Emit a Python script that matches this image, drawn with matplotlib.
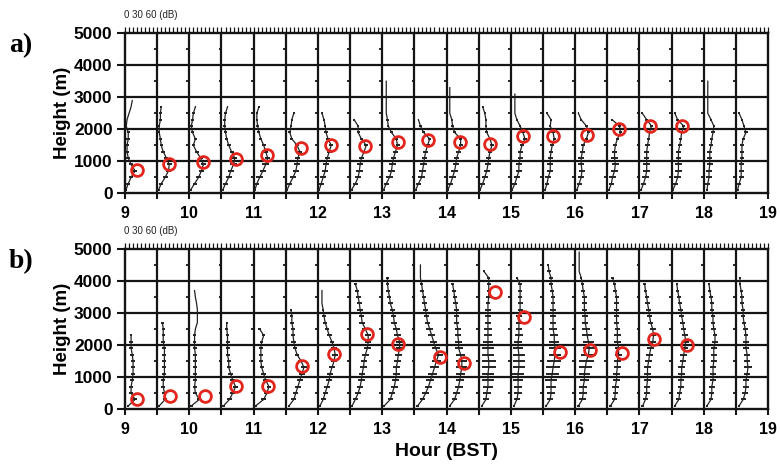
import numpy as np
import matplotlib.pyplot as plt
from matplotlib.ticker import MultipleLocator, FuncFormatter

SAVEFIG = 'out.png'

# start hour of each 30-min averaged sodar profile
COLUMNS = [9.0, 9.5, 10.0, 10.5, 11.0, 11.5, 12.0, 12.5, 13.0, 13.5,
           14.0, 14.5, 15.0, 15.5, 16.0, 16.5, 17.0, 17.5, 18.0, 18.5]
# range gates (m)
GATES = [100, 300, 500, 700, 900, 1100, 1300, 1500, 1700, 1900, 2100, 2300, 2500,
         2700, 2900, 3100, 3300, 3500, 3700, 3900, 4100, 4300, 4500, 4700, 4900]
DB_PER_HOUR = 160  # one half-hour column spans 80 dB

# backscatter profiles (dB), day a)
PROFILES_A = [
    [2, 8, 15, 25, 15, 8, 5, 5, 8, 8, 3, 5, 10, 15, 18],
    [3, 10, 20, 28, 30, 23, 15, 10, 8, 5, 5, 8, 8, 10],
    [3, 13, 23, 30, 35, 28, 18, 10, 15, 8, 5, 8, 10, 15],
    [3, 10, 18, 23, 30, 33, 25, 18, 13, 10, 8, 8, 10, 15],
    [3, 8, 15, 23, 30, 35, 30, 25, 18, 13, 10, 8, 8, 13],
    [3, 10, 18, 25, 28, 30, 35, 28, 15, 10, 13, 15, 20],
    [3, 8, 13, 18, 20, 23, 28, 33, 25, 20, 18, 15, 10],
    [3, 13, 20, 23, 25, 28, 35, 40, 28, 20, 20, 10],
    [3, 10, 18, 23, 25, 28, 33, 38, 35, 23, 15, 13, 10, 10, 10, 10, 10, 10],
    [3, 10, 18, 20, 23, 25, 28, 33, 38, 23, 15, 10],
    [3, 10, 15, 20, 23, 25, 30, 35, 35, 20, 15, 13, 8, 8, 8, 8, 8],
    [3, 10, 15, 20, 23, 25, 28, 33, 28, 20, 18, 18, 15, 10],
    [3, 10, 15, 20, 20, 23, 23, 28, 35, 30, 23, 15, 10, 10, 10, 10],
    [5, 10, 13, 18, 18, 18, 20, 23, 28, 25, 18, 20, 10],
    [4, 10, 15, 17, 15, 15, 18, 20, 28, 33, 28, 15, 8],
    [4, 10, 13, 18, 20, 18, 18, 20, 25, 33, 30, 12],
    [4, 10, 15, 18, 18, 18, 18, 20, 23, 25, 30, 18, 7],
    [3, 10, 15, 17, 17, 17, 17, 20, 23, 25, 30, 15, 8],
    [8, 10, 13, 13, 15, 15, 15, 18, 20, 23, 25, 18, 10, 10, 10, 10, 10, 10],
    [4, 8, 13, 13, 13, 15, 15, 15, 18, 25, 20, 15, 8],
]
ERRORS_A = [
    [3, 5, 6, 6, 5, 5, 5, 5, 5, 4, 0, 0, 0, 0, 0],
    [3, 5, 6, 6, 6, 5, 5, 4, 4, 3, 3, 3, 3, 2],
    [3, 5, 6, 6, 6, 5, 5, 4, 4, 3, 3, 3, 3, 2],
    [3, 6, 8, 8, 8, 6, 5, 5, 4, 4, 3, 3, 3, 2],
    [3, 6, 8, 8, 8, 6, 5, 5, 4, 4, 3, 3, 3, 2],
    [3, 6, 8, 8, 8, 6, 6, 5, 4, 4, 3, 3, 2],
    [3, 6, 8, 8, 8, 6, 6, 5, 4, 4, 3, 3, 2],
    [3, 6, 8, 8, 8, 6, 6, 5, 4, 4, 3, 2],
    [3, 6, 8, 8, 8, 6, 6, 5, 4, 4, 3, 3, 0, 0, 0, 0, 0, 0],
    [3, 6, 8, 8, 8, 6, 6, 5, 4, 4, 3, 2],
    [3, 6, 8, 8, 8, 6, 6, 5, 4, 4, 3, 3, 0, 0, 0, 0, 0],
    [3, 6, 8, 8, 8, 6, 6, 5, 4, 4, 3, 3, 3, 2],
    [3, 6, 8, 8, 8, 6, 6, 5, 4, 4, 3, 3, 0, 0, 0, 0],
    [3, 6, 8, 8, 8, 6, 6, 5, 4, 4, 3, 3, 2],
    [3, 6, 8, 8, 8, 8, 6, 5, 4, 4, 3, 3, 2],
    [3, 6, 8, 8, 8, 8, 6, 5, 4, 4, 3, 2],
    [3, 6, 8, 8, 8, 6, 6, 5, 4, 4, 3, 3, 2],
    [3, 6, 8, 8, 8, 6, 6, 5, 4, 4, 3, 3, 2],
    [3, 6, 8, 8, 8, 6, 6, 5, 4, 4, 3, 3, 0, 0, 0, 0, 0, 0],
    [3, 5, 6, 6, 6, 5, 5, 5, 4, 4, 3, 3, 2],
]
BLH_HOUR_A = [9.19, 9.69, 10.21, 10.72, 11.21, 11.73, 12.21, 12.73, 13.24,
              13.71, 14.21, 14.68, 15.19, 15.66, 16.18, 16.68, 17.16, 17.66]
BLH_A = [730, 900, 990, 1060, 1200, 1400, 1500, 1480, 1610,
         1660, 1610, 1540, 1790, 1800, 1810, 2010, 2100, 2100]

# backscatter profiles (dB), day b)
PROFILES_B = [
    [8, 25, 15, 15, 18, 20, 20, 20, 18, 15, 15, 15],
    [5, 20, 18, 15, 15, 18, 18, 18, 18, 18, 15, 15, 15, 13],
    [5, 25, 15, 13, 15, 15, 15, 15, 15, 13, 13, 13, 15, 20, 20, 20, 18, 15, 13],
    [5, 20, 28, 35, 28, 23, 18, 18, 15, 15, 15, 15, 13, 13],
    [5, 25, 33, 38, 30, 25, 20, 18, 18, 18, 20, 25, 15],
    [8, 20, 25, 30, 35, 40, 45, 38, 28, 23, 20, 18, 18, 15, 15, 13],
    [5, 13, 18, 23, 28, 30, 35, 40, 43, 40, 35, 28, 23, 18, 15, 13, 10, 10, 10],
    [5, 13, 20, 25, 28, 30, 33, 35, 38, 43, 45, 45, 38, 30, 28, 25, 23, 20, 18, 13],
    [5, 20, 25, 30, 33, 35, 35, 38, 40, 43, 43, 38, 35, 30, 28, 25, 20, 18, 15, 13, 13],
    [8, 20, 28, 35, 40, 45, 50, 55, 60, 53, 48, 43, 38, 33, 30, 28, 25, 23, 20, 18, 15, 15, 15],
    [8, 20, 25, 30, 33, 35, 38, 38, 35, 30, 30, 28, 28, 25, 25, 25, 23, 20, 18, 15],
    [8, 18, 20, 23, 23, 23, 25, 25, 23, 23, 23, 23, 23, 23, 23, 23, 23, 25, 25, 25, 25, 13],
    [8, 15, 18, 18, 18, 18, 20, 20, 20, 18, 18, 20, 20, 20, 20, 23, 23, 23, 23, 23, 15],
    [8, 18, 20, 20, 20, 23, 25, 28, 30, 30, 28, 28, 25, 25, 25, 25, 25, 25, 23, 20, 20, 15, 13],
    [8, 18, 20, 20, 23, 23, 25, 28, 33, 35, 33, 30, 28, 25, 25, 23, 23, 23, 20, 18, 15, 10, 10, 10, 10],
    [8, 18, 20, 20, 23, 23, 25, 25, 28, 28, 25, 25, 25, 23, 23, 23, 23, 23, 20, 18, 13],
    [8, 15, 18, 18, 20, 20, 20, 23, 25, 28, 33, 35, 33, 28, 25, 23, 20, 18, 15, 13],
    [8, 18, 20, 23, 23, 25, 25, 28, 30, 33, 35, 33, 30, 28, 25, 23, 20, 18, 15, 13],
    [8, 18, 20, 20, 23, 23, 23, 25, 25, 25, 28, 28, 25, 23, 23, 20, 20, 18, 15, 13],
    [8, 18, 23, 25, 25, 28, 30, 28, 28, 25, 25, 25, 23, 20, 18, 18, 15, 15, 13, 10, 10],
]
ERRORS_B = [
    [3, 5, 5, 5, 5, 5, 5, 5, 5, 5, 4, 3],
    [3, 5, 5, 5, 5, 5, 5, 5, 5, 5, 5, 4, 4, 3],
    [3, 5, 5, 5, 5, 5, 5, 5, 5, 5, 4, 3, 0, 0, 0, 0, 0, 0, 0],
    [3, 6, 6, 6, 6, 6, 5, 5, 5, 5, 5, 4, 4, 3],
    [3, 6, 6, 6, 6, 6, 5, 5, 5, 5, 4, 4, 3],
    [3, 6, 6, 7, 7, 7, 7, 7, 6, 6, 6, 5, 5, 5, 4, 3],
    [3, 6, 6, 7, 7, 7, 7, 7, 7, 7, 6, 6, 5, 5, 4, 3, 0, 0, 0],
    [3, 6, 7, 8, 8, 8, 8, 8, 9, 9, 8, 8, 8, 7, 7, 7, 6, 6, 5, 4],
    [3, 6, 7, 8, 8, 8, 9, 9, 9, 9, 8, 8, 8, 7, 7, 6, 6, 5, 5, 4, 3],
    [3, 6, 8, 9, 10, 10, 12, 12, 11, 10, 9, 8, 8, 7, 7, 6, 6, 5, 5, 4, 0, 0, 0],
    [3, 6, 8, 10, 10, 12, 14, 14, 12, 10, 9, 8, 8, 7, 7, 6, 6, 5, 5, 4],
    [3, 8, 10, 12, 14, 16, 18, 18, 16, 14, 12, 10, 9, 8, 7, 7, 6, 6, 5, 5, 4, 3],
    [3, 8, 10, 10, 12, 14, 15, 15, 14, 12, 10, 9, 8, 8, 7, 6, 6, 5, 5, 4, 3],
    [3, 8, 10, 12, 14, 16, 18, 18, 16, 14, 12, 10, 9, 8, 8, 7, 6, 6, 5, 5, 4, 4, 3],
    [3, 8, 10, 10, 12, 14, 16, 18, 18, 16, 14, 12, 10, 8, 8, 7, 6, 6, 5, 4, 3, 0, 0, 0, 0],
    [3, 6, 7, 8, 8, 8, 9, 9, 9, 8, 8, 8, 7, 7, 6, 6, 6, 5, 5, 4, 3],
    [3, 6, 7, 7, 8, 8, 8, 8, 8, 8, 8, 7, 7, 6, 6, 6, 5, 5, 4, 3],
    [3, 6, 7, 7, 8, 8, 8, 8, 8, 8, 8, 7, 7, 6, 6, 6, 5, 5, 4, 3],
    [3, 6, 6, 7, 7, 7, 7, 7, 7, 7, 7, 6, 6, 6, 5, 5, 5, 4, 4, 3],
    [3, 6, 7, 7, 8, 8, 10, 8, 8, 7, 7, 6, 6, 6, 5, 5, 5, 4, 4, 3, 3],
]
BLH_HOUR_B = [9.19, 9.70, 10.25, 10.72, 11.22, 11.75, 12.25, 12.77, 13.25,
              13.90, 14.27, 14.75, 15.20, 15.76, 16.23, 16.73, 17.23, 17.74]
BLH_B = [310, 415, 415, 725, 725, 1340, 1720, 2330, 2030,
         1630, 1440, 3650, 2890, 1780, 1840, 1760, 2190, 2010]

HEIGHT_TICKS = [0, 1000, 2000, 3000, 4000, 5000]
SUB_TICKS = [500, 1500, 2500, 3500, 4500]

RED = '#e3261d'
INK = '#222222'
GRID = '#151515'


def draw_panel(ax, profiles, errors, blh_hour, blh, letter, fig):
    ax.set_xlim(9, 19)
    ax.set_ylim(0, 5000)

    # grid: column borders and 1000 m lines
    for c in COLUMNS[1:]:
        ax.axvline(c, color=GRID, lw=1.6, zorder=1)
    for h in HEIGHT_TICKS[1:-1]:
        ax.axhline(h, color=GRID, lw=1.6, zorder=1)
    # small height ticks on each column axis
    for c in COLUMNS:
        ax.hlines(SUB_TICKS, c - 0.045, c, color=GRID, lw=1.3, zorder=1)

    for c, prof, err in zip(COLUMNS, profiles, errors):
        db = np.array(prof, dtype=float)
        x = c + db / DB_PER_HOUR
        xe = np.array(err, dtype=float) / DB_PER_HOUR
        y = GATES[:len(prof)]
        ax.errorbar(x, y, xerr=xe, fmt='-', color=INK, lw=0.9,
                    elinewidth=1.4, ecolor=INK, capsize=0, zorder=2)

    ax.plot(blh_hour, blh, 'o', mfc='none', mec=RED, ms=8.5, mew=2.0, zorder=3)

    for s in ax.spines.values():
        s.set_linewidth(1.7)
        s.set_color(GRID)

    ax.set_yticks(HEIGHT_TICKS)
    ax.set_yticklabels([str(h) for h in HEIGHT_TICKS], fontweight='bold',
                       fontsize=12.5, family='Liberation Sans')
    ax.tick_params(axis='y', length=6, width=1.5, pad=3, color=GRID)
    ax.set_ylabel('Height (m)', fontsize=13.5, fontweight='bold',
                  family='Liberation Sans', labelpad=2)

    ax.xaxis.set_major_locator(MultipleLocator(0.5))
    ax.xaxis.set_minor_locator(MultipleLocator(0.0625))
    ax.xaxis.remove_overlapping_locs = False
    ax.xaxis.set_major_formatter(FuncFormatter(
        lambda v, p: f'{v:.0f}' if abs(v - round(v)) < 1e-6 else ''))
    ax.tick_params(axis='x', which='major', bottom=True, top=False, length=4,
                   width=1.5, pad=5, color=GRID, labelsize=11.5)
    ax.tick_params(axis='x', which='minor', bottom=False, top=True, length=4,
                   width=0.9, direction='out', color=GRID)
    for lab in ax.get_xticklabels():
        lab.set_fontweight('bold')
        lab.set_family('Liberation Sans')

    ax.annotate('0 30 60 (dB)', xy=(9.0, 1.0), xycoords=('data', 'axes fraction'),
                xytext=(-1, 13), textcoords='offset points', fontsize=7,
                va='center', ha='left', color='#222222', family='Liberation Sans')

    pos = ax.get_position()
    fig.text(0.027, pos.y1 - 0.027, letter, fontsize=20, fontweight='bold',
             family='Liberation Serif', ha='center', va='center')


def main():
    fig = plt.figure(figsize=(7.8, 4.68), dpi=100)
    ax_a = fig.add_axes([0.1603, 0.587, 0.8244, 0.342])
    ax_b = fig.add_axes([0.1603, 0.126, 0.8244, 0.342])

    draw_panel(ax_a, PROFILES_A, ERRORS_A, BLH_HOUR_A, BLH_A, 'a)', fig)
    draw_panel(ax_b, PROFILES_B, ERRORS_B, BLH_HOUR_B, BLH_B, 'b)', fig)

    ax_b.set_xlabel('Hour (BST)', fontsize=14, fontweight='bold',
                    family='Liberation Sans', labelpad=5)

    fig.savefig(SAVEFIG, dpi=100)
    plt.close(fig)


if __name__ == '__main__':
    main()
